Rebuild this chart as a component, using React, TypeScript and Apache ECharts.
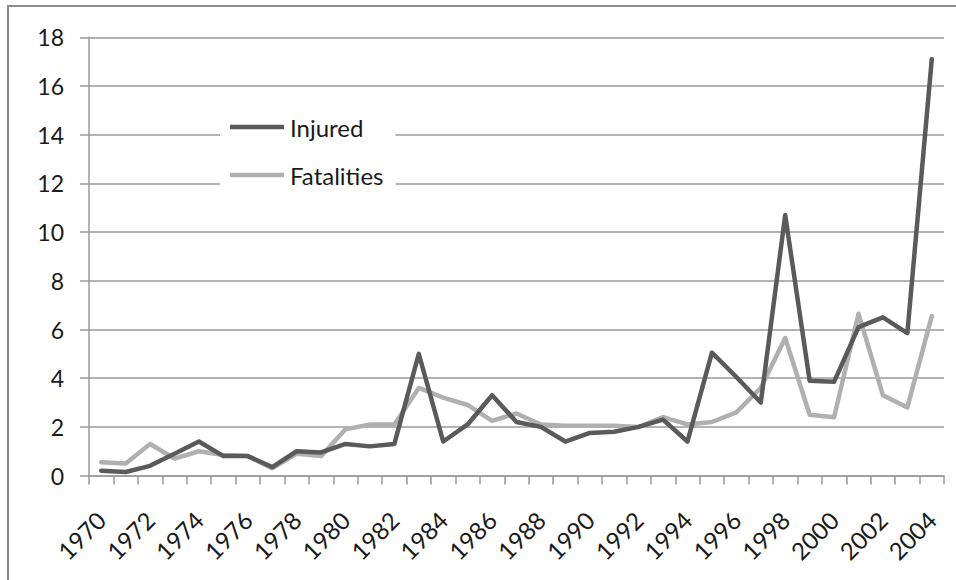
import React, { useEffect, useRef } from "react";
import * as echarts from "echarts";

const years: string[] = [];
for (let y = 1970; y <= 2004; y++) years.push(String(y));

const injured = [
  0.2, 0.15, 0.4, 0.9, 1.4, 0.8, 0.8, 0.35, 1.0, 0.95,
  1.3, 1.2, 1.3, 5.0, 1.4, 2.1, 3.3, 2.2, 2.0, 1.4,
  1.75, 1.8, 2.0, 2.3, 1.4, 5.05, 4.05, 3.0, 10.7, 3.9,
  3.85, 6.1, 6.5, 5.85, 17.1,
];

const fatalities = [
  0.55, 0.5, 1.3, 0.7, 1.0, 0.85, 0.8, 0.3, 0.9, 0.8,
  1.9, 2.1, 2.1, 3.6, 3.2, 2.9, 2.25, 2.55, 2.1, 2.05,
  2.05, 2.05, 2.0, 2.4, 2.1, 2.2, 2.6, 3.6, 5.65, 2.5,
  2.4, 6.65, 3.3, 2.8, 6.55,
];

const yTicks = { min: 0, max: 18, interval: 2 };

const FONT = "Lato, 'Open Sans', sans-serif";
const TEXT = "#1a1a1a";
const GRID = "#9a9a9a";

export default function App() {
  const ref = useRef<HTMLDivElement>(null);
  useEffect(() => {
    if (!ref.current) return;
    const chart = echarts.init(ref.current, undefined, { renderer: "svg" });
    chart.setOption({
      animation: false,
      backgroundColor: "#fff",
      textStyle: { fontFamily: FONT },
      graphic: [
        {
          type: "rect",
          shape: { x: 8, y: 6, width: 1000, height: 700 },
          style: { fill: "none", stroke: "#8a8a8a", lineWidth: 2 },
          z: 100,
        },
      ],
      grid: { left: 89, right: 12, top: 37.3, bottom: 104.4, containLabel: false },
      legend: {
        orient: "vertical",
        left: 220,
        top: 105,
        padding: [10, 12, 10, 10],
        itemGap: 24,
        backgroundColor: "#fff",
        icon: "rect",
        itemWidth: 54,
        itemHeight: 4.5,
        textStyle: { fontFamily: FONT, fontSize: 24, color: TEXT, padding: [0, 0, 0, 1] },
        data: ["Injured", "Fatalities"],
        z: 10,
      },
      xAxis: {
        type: "category",
        data: years,
        boundaryGap: true,
        axisLine: { lineStyle: { color: GRID, width: 1.5 } },
        axisTick: { show: true, length: 9, interval: 0, lineStyle: { color: GRID, width: 1.5 } },
        axisLabel: {
          interval: 1,
          rotate: 45,
          margin: 40,
          fontFamily: FONT,
          fontSize: 24,
          color: TEXT,
        },
        splitLine: { show: false },
      },
      yAxis: {
        type: "value",
        min: yTicks.min,
        max: yTicks.max,
        interval: yTicks.interval,
        axisLine: { show: true, lineStyle: { color: GRID, width: 1.5 } },
        axisTick: { show: true, length: 9, lineStyle: { color: GRID, width: 1.5 } },
        axisLabel: { margin: 25, fontFamily: FONT, fontSize: 23, color: TEXT },
        splitLine: { show: true, lineStyle: { color: GRID, width: 1.5 } },
      },
      series: [
        {
          name: "Injured",
          type: "line",
          data: injured,
          symbol: "none",
          color: "#5a5a5a",
          lineStyle: { width: 4.5, color: "#5a5a5a", join: "round", cap: "round" },
          z: 3,
        },
        {
          name: "Fatalities",
          type: "line",
          data: fatalities,
          symbol: "none",
          color: "#b0b0b0",
          lineStyle: { width: 4.5, color: "#b0b0b0", join: "round", cap: "round" },
          z: 2,
        },
      ],
    });
    return () => chart.dispose();
  }, []);
  return <div ref={ref} style={{ width: 956, height: 580, position: "absolute", left: 0, top: 0 }} />;
}
